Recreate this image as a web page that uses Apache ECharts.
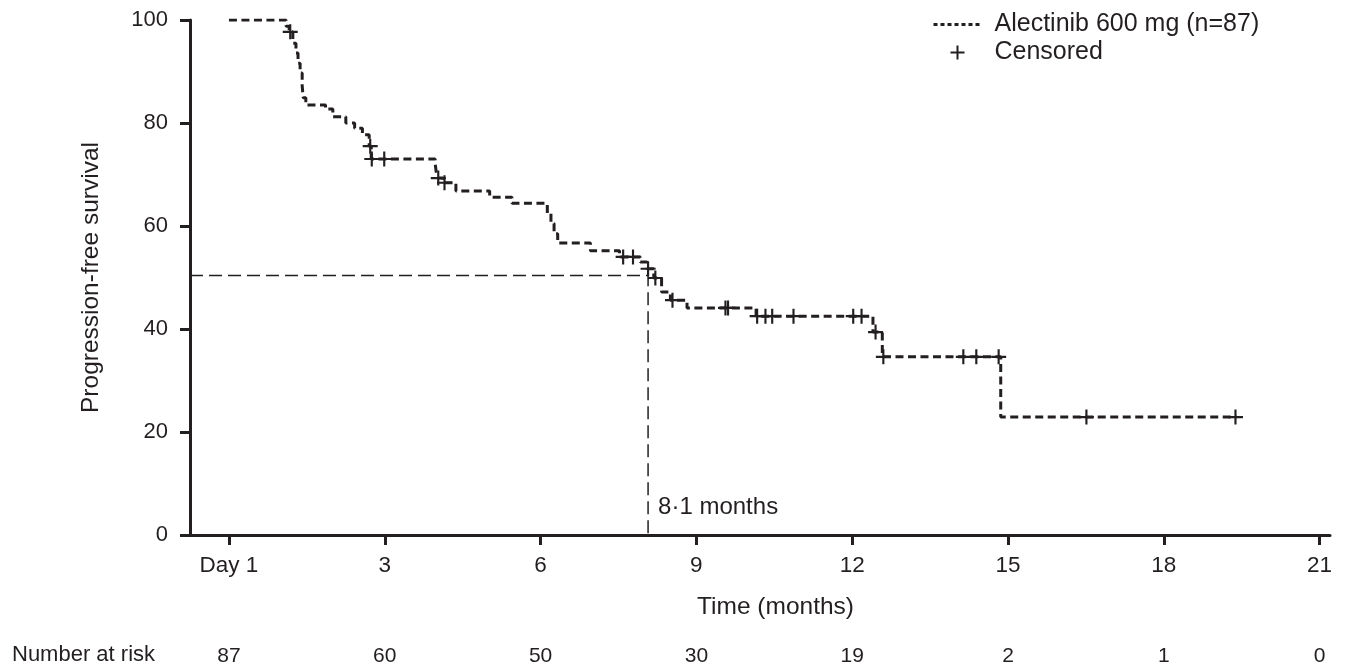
<!DOCTYPE html>
<html>
<head>
<meta charset="utf-8">
<script src="https://cdn.jsdelivr.net/npm/echarts@6/dist/echarts.min.js"></script>
<style>
html,body{margin:0;padding:0;background:#fff;}
#chart{width:1360px;height:669px;}
</style>
</head>
<body>
<div id="chart"></div>
<script>
// Kaplan-Meier step points: time (months) and survival (%) after each step
const kmTimes = [0, 1.10, 1.16, 1.23, 1.29, 1.33, 1.37, 1.41, 1.43, 1.48, 1.86, 2.00, 2.25, 2.42, 2.57, 2.70, 2.74, 3.97, 3.99, 4.02, 4.12, 4.37, 5.02, 5.45, 6.13, 6.20, 6.26, 6.33, 6.96, 7.52, 7.92, 8.05, 8.18, 8.33, 8.50, 8.82, 10.15, 12.40, 12.58, 14.86, 19.40];
const kmSurv  = [100, 98.8, 97.7, 95.5, 93.6, 91.6, 89.7, 87.2, 84.9, 83.5, 82.7, 81.2, 80.0, 79.0, 77.7, 75.5, 73.0, 72.2, 70.5, 69.3, 68.4, 66.8, 65.6, 64.4, 62.5, 60.5, 58.5, 56.7, 55.2, 54.0, 53.0, 51.7, 49.9, 47.2, 45.6, 44.1, 42.5, 39.4, 34.6, 22.9, 22.9];
// Censored observations
const censorTimes = [1.18, 2.72, 2.75, 2.99, 4.03, 4.15, 7.59, 7.78, 8.07, 8.21, 8.54, 9.56, 9.61, 10.17, 10.33, 10.46, 10.87, 12.02, 12.18, 12.45, 12.60, 14.14, 14.39, 14.82, 16.51, 19.38];
const censorSurv  = [97.7, 75.5, 73.0, 73.0, 69.3, 68.4, 54.0, 54.0, 51.7, 49.9, 45.6, 44.1, 44.1, 42.5, 42.5, 42.5, 42.5, 42.5, 42.5, 39.4, 34.6, 34.6, 34.6, 34.6, 22.9, 22.9];
// Median
const medianTime = 8.07;
const medianSurv = 50.4;
const medianLabel = '8·1 months';
// Axes
const xTickValues = [0, 3, 6, 9, 12, 15, 18, 21];
const xTickLabels = ['Day 1', '3', '6', '9', '12', '15', '18', '21'];
const riskCounts  = [87, 60, 50, 30, 19, 2, 1, 0];
const xMin = -0.75, xMax = 21.2;

const FONT = '"Liberation Sans", Arial, Helvetica, sans-serif';
const INK = '#231f20';
const plusPath = 'path://M-1,-7H1V-1H7V1H1V7H-1V1H-7V-1H-1Z';

const chart = echarts.init(document.getElementById('chart'));
const kmData = kmTimes.map((t, i) => [t, kmSurv[i]]);
const censorData = censorTimes.map((t, i) => [t, censorSurv[i]]);

chart.setOption({
  animation: false,
  backgroundColor: '#fff',
  textStyle: { fontFamily: FONT, color: INK },
  grid: { left: 190, right: 30, top: 20, bottom: 134 },
  legend: {
    orient: 'vertical',
    left: 932,
    top: 12,
    padding: 0,
    itemWidth: 48,
    itemHeight: 14,
    itemGap: 3,
    data: [
      { name: 'Alectinib 600 mg (n=87)', lineStyle: { type: [4, 3], width: 3 }, itemStyle: { opacity: 0, color: 'transparent', borderWidth: 0 } },
      { name: 'Censored' }
    ],
    textStyle: { fontFamily: FONT, fontSize: 25, color: INK, padding: [0, 0, 0, 8] }
  },
  xAxis: [{
    type: 'value',
    min: xMin, max: xMax,
    axisLine: { show: true, onZero: false, lineStyle: { color: INK, width: 3 } },
    axisTick: { show: true, customValues: xTickValues, length: 10, lineStyle: { color: INK, width: 3 } },
    axisLabel: {
      customValues: xTickValues, margin: 19,
      fontFamily: FONT, fontSize: 22.5, color: INK,
      formatter: v => xTickLabels[xTickValues.indexOf(v)]
    },
    splitLine: { show: false }
  }, {
    type: 'value',
    min: xMin, max: xMax,
    position: 'bottom',
    offset: 103,
    axisLine: { show: false, onZero: false },
    axisTick: { show: false },
    axisLabel: {
      customValues: xTickValues, margin: 8,
      fontFamily: FONT, fontSize: 21, color: INK,
      formatter: v => String(riskCounts[xTickValues.indexOf(v)])
    },
    splitLine: { show: false }
  }],
  yAxis: {
    type: 'value',
    min: 0, max: 100, interval: 20,
    name: 'Progression-free survival',
    nameLocation: 'middle',
    nameGap: 86,
    nameTextStyle: { fontFamily: FONT, fontSize: 24.5, color: INK },
    axisLine: { show: true, onZero: false, lineStyle: { color: INK, width: 3 } },
    axisTick: { show: true, length: 10, lineStyle: { color: INK, width: 3 } },
    axisLabel: { margin: 22, fontFamily: FONT, fontSize: 22, color: INK },
    splitLine: { show: false }
  },
  graphic: [
    { type: 'text', left: 12, top: 644, style: { text: 'Number at risk', font: '22px ' + FONT, fill: INK } },
    { type: 'text', left: 697, top: 595, style: { text: 'Time (months)', font: '24.5px ' + FONT, fill: INK } }
  ],
  series: [
    {
      name: 'Alectinib 600 mg (n=87)',
      type: 'line',
      step: 'end',
      data: kmData,
      symbol: 'none',
      lineStyle: { color: INK, width: 3, type: [8, 4.5] },
      itemStyle: { color: INK },
      z: 3
    },
    {
      name: 'Censored',
      type: 'scatter',
      data: censorData,
      symbol: plusPath,
      symbolSize: 15,
      symbolKeepAspect: true,
      itemStyle: { color: INK, opacity: 1 },
      z: 4
    },
    {
      name: 'median',
      type: 'line',
      data: [[xMin, medianSurv], [medianTime, medianSurv], [medianTime, 0]],
      symbol: 'none',
      lineStyle: { color: INK, width: 1.5, type: [13, 6] },
      z: 2,
      silent: true
    },
    {
      name: 'medianLabel',
      type: 'scatter',
      data: [[medianTime, 5.4]],
      symbolSize: 0,
      itemStyle: { opacity: 1, color: INK },
      label: {
        show: true, position: 'right', distance: 10,
        formatter: medianLabel,
        fontFamily: FONT, fontSize: 24, color: INK, opacity: 1
      },
      silent: true
    }
  ]
});
</script>
</body>
</html>
